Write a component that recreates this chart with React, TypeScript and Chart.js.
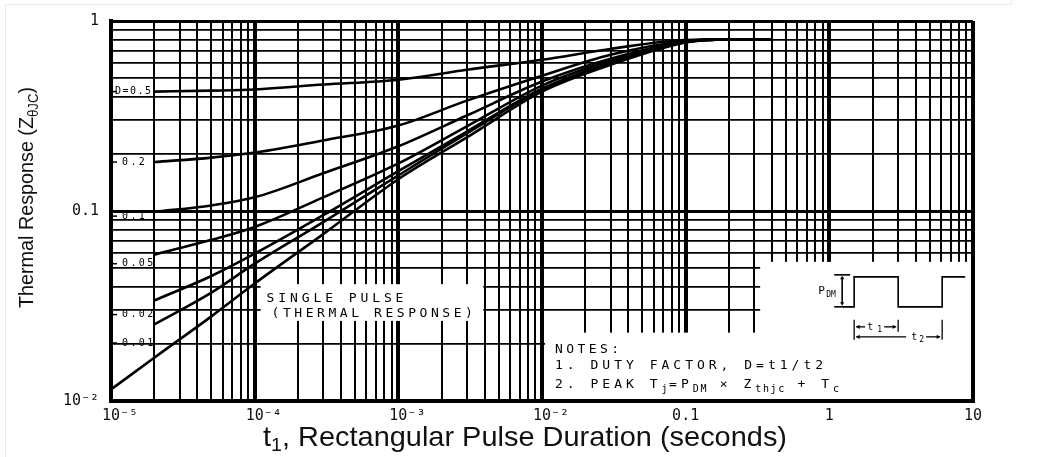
import { useEffect, useRef } from 'react';
import { Chart, registerables } from 'chart.js';

Chart.register(...registerables);

// ---- data (t1 in seconds, Z in normalised units) ----
const durations = [1e-5, 2e-5, 5e-5, 1e-4, 3e-4, 1e-3, 3e-3, 1e-2, 3e-2, 0.1, 0.2, 0.4];

const duty05 = [null, 0.425, 0.43, 0.436, 0.463, 0.491, 0.554, 0.625, 0.713, 0.795, 0.8, 0.8];
const duty02 = [null, 0.181, 0.191, 0.203, 0.235, 0.282, 0.381, 0.515, 0.664, 0.785, 0.8, 0.8];
const duty01 = [null, 0.099, 0.107, 0.118, 0.158, 0.219, 0.318, 0.48, 0.633, 0.78, 0.8, 0.8];
const duty005 = [null, 0.0589, 0.0705, 0.0824, 0.118, 0.178, 0.279, 0.457, 0.617, 0.778, 0.8, 0.8];
const duty002 = [null, 0.0338, 0.0455, 0.0596, 0.095, 0.162, 0.262, 0.44, 0.603, 0.776, 0.8, 0.8];
const duty001 = [null, 0.0253, 0.0372, 0.0528, 0.0874, 0.154, 0.256, 0.435, 0.595, 0.775, 0.8, 0.8];
const singlePulse = [0.0115, 0.0169, 0.0279, 0.0415, 0.0756, 0.147, 0.244, 0.425, 0.588, 0.772, 0.8, 0.8];

const seriesNames = ['D=0.5', 'D=0.2', 'D=0.1', 'D=0.05', 'D=0.02', 'D=0.01', 'Single pulse'];
const seriesValues = [duty05, duty02, duty01, duty005, duty002, duty001, singlePulse];

// curve labels written at the left edge, and the Z value they sit at
const dutyNames = ['D=0.5', '0.2', '0.1', '0.05', '0.02', '0.01'];
const dutyLabelAt = [0.425, 0.181, 0.094, 0.0528, 0.0285, 0.0202];

// axis ticks
const xDecades = [1e-5, 1e-4, 1e-3, 1e-2, 0.1, 1, 10];
const xDecadeLabels = ['10⁻⁵', '10⁻⁴', '10⁻³', '10⁻²', '0.1', '1', '10'];
const yDecades = [0.01, 0.1, 1];
const yDecadeLabels = ['10⁻²', '0.1', '1'];

// texts
const xTitle = [
  { text: 't', sub: false },
  { text: '1', sub: true },
  { text: ', Rectangular Pulse Duration (seconds)', sub: false },
];
const yTitle = [
  { text: 'Thermal Response (Z', sub: false },
  { text: 'θJC', sub: true },
  { text: ')', sub: false },
];
const pulseLabel = ['SINGLE PULSE', '(THERMAL RESPONSE)'];
const notesTitle = 'NOTES:';
const note1 = '1. DUTY FACTOR, D=t1/t2';
const note2 = [
  { text: '2. PEAK T', sub: false },
  { text: 'j', sub: true },
  { text: '=P', sub: false },
  { text: 'DM', sub: true },
  { text: ' × Z', sub: false },
  { text: 'thjc', sub: true },
  { text: ' + T', sub: false },
  { text: 'c', sub: true },
];

// white label boxes, in data coordinates (t1 from..to, Z top..bottom)
const singlePulseBox = { t0: 1.1e-4, t1: 3.9e-3, z0: 0.0412, z1: 0.0264 };
const notesBox = { t0: 1.05e-2, t1: 10, z0: 0.0229, z1: 0.01 };
const insetBox = { t0: 0.33, t1: 10, z0: 0.054, z1: 0.01 };

// ---- helpers ----
function logGrid(decades: number[]) {
  const out: number[] = [];
  for (let i = 0; i < decades.length - 1; i++) {
    for (let m = 1; m <= 9; m++) out.push(+(m * decades[i]).toPrecision(8));
  }
  out.push(decades[decades.length - 1]);
  return out;
}
const xGrid = logGrid(xDecades);
const yGrid = logGrid(yDecades);

function isDecade(v: number | undefined) {
  if (!v) return false;
  const l = Math.log10(v);
  return Math.abs(l - Math.round(l)) < 1e-6;
}
function labelFor(v: number, decades: number[], labels: string[]) {
  const i = decades.findIndex((d) => Math.abs(d - v) <= d * 1e-6);
  return i >= 0 ? labels[i] : '';
}

const MONO = '"DejaVu Sans Mono", monospace';
const SANS = '"Liberation Sans", Arial, sans-serif';

function drawSpaced(ctx: CanvasRenderingContext2D, text: string, x: number, y: number, spacing: number) {
  for (const ch of text) {
    ctx.fillText(ch, x, y);
    x += ctx.measureText(ch).width + spacing;
  }
  return x;
}

function drawSpacedSegs(
  ctx: CanvasRenderingContext2D,
  segs: { text: string; sub: boolean }[],
  x: number,
  y: number,
  mainFont: string,
  subFont: string,
  spacing: number,
  subSpacing: number,
  subShift: number
) {
  for (const s of segs) {
    ctx.font = s.sub ? subFont : mainFont;
    x = drawSpaced(ctx, s.text, x, s.sub ? y + subShift : y, s.sub ? subSpacing : spacing);
  }
  return x;
}

function drawRich(
  ctx: CanvasRenderingContext2D,
  segs: { text: string; sub: boolean }[],
  cx: number,
  baseline: number,
  targetWidth: number,
  mainFont: string,
  subFont: string,
  subShift: number
) {
  const widths = segs.map((s) => {
    ctx.font = s.sub ? subFont : mainFont;
    return ctx.measureText(s.text).width;
  });
  const total = widths.reduce((a, b) => a + b, 0);
  const k = targetWidth / total;
  ctx.save();
  ctx.translate(cx - targetWidth / 2, baseline);
  ctx.scale(k, 1);
  ctx.textAlign = 'left';
  ctx.textBaseline = 'alphabetic';
  let x = 0;
  segs.forEach((s, i) => {
    ctx.font = s.sub ? subFont : mainFont;
    ctx.fillText(s.text, x, s.sub ? subShift : 0);
    x += widths[i];
  });
  ctx.restore();
}

function boxPx(chart: any, b: { t0: number; t1: number; z0: number; z1: number }) {
  const { x, y } = chart.scales;
  const a = chart.chartArea;
  const left = x.getPixelForValue(b.t0);
  const right = Math.min(x.getPixelForValue(b.t1), a.right - 2);
  const top = y.getPixelForValue(b.z0);
  const bottom = Math.min(y.getPixelForValue(b.z1), a.bottom - 2);
  return { left, right, top, bottom };
}

function arrowHead(ctx: CanvasRenderingContext2D, x: number, y: number, dx: number, dy: number) {
  const s = 3.5;
  ctx.beginPath();
  ctx.moveTo(x, y);
  ctx.lineTo(x - dx * s - dy * s * 0.6, y - dy * s - dx * s * 0.6);
  ctx.lineTo(x - dx * s + dy * s * 0.6, y - dy * s + dx * s * 0.6);
  ctx.closePath();
  ctx.fill();
}

function line(ctx: CanvasRenderingContext2D, pts: number[][]) {
  ctx.beginPath();
  ctx.moveTo(pts[0][0], pts[0][1]);
  for (let i = 1; i < pts.length; i++) ctx.lineTo(pts[i][0], pts[i][1]);
  ctx.stroke();
}

const sheetPlugin = {
  id: 'sheetPlugin',
  beforeDatasetsDraw(chart: any) {
    const ctx: CanvasRenderingContext2D = chart.ctx;
    ctx.save();
    ctx.fillStyle = '#fff';
    for (const b of [singlePulseBox, notesBox, insetBox]) {
      const r = boxPx(chart, b);
      ctx.fillRect(r.left, r.top, r.right - r.left, r.bottom - r.top);
    }
    ctx.restore();
  },
  afterDatasetsDraw(chart: any) {
    const ctx: CanvasRenderingContext2D = chart.ctx;
    const { y } = chart.scales;
    const a = chart.chartArea;
    ctx.save();
    ctx.fillStyle = '#000';
    ctx.strokeStyle = '#000';
    ctx.textAlign = 'left';

    // curve labels at the left edge
    ctx.font = `10px ${MONO}`;
    ctx.textBaseline = 'middle';
    dutyNames.forEach((name, i) => {
      const py = y.getPixelForValue(dutyLabelAt[i]);
      ctx.fillRect(a.left + 1, py - 0.75, 5, 1.5);
      if (i === 0) drawSpaced(ctx, name, a.left + 4, py, 1.5);
      else drawSpaced(ctx, name, a.left + 11, py, 2.4);
    });

    // single pulse label
    ctx.textBaseline = 'alphabetic';
    const sp = boxPx(chart, singlePulseBox);
    ctx.font = `13px ${MONO}`;
    drawSpaced(ctx, pulseLabel[0], sp.left + 6, sp.top + 18, 3.9);
    drawSpaced(ctx, pulseLabel[1], sp.left + 11, sp.top + 33, 3.55);

    // notes
    const nb = boxPx(chart, notesBox);
    ctx.font = `13px ${MONO}`;
    drawSpaced(ctx, notesTitle, nb.left + 10, nb.top + 20, 3.4);
    drawSpaced(ctx, note1, nb.left + 10, nb.top + 36, 4.0);
    drawSpacedSegs(ctx, note2, nb.left + 10, nb.top + 55, `13px ${MONO}`, `10px ${MONO}`, 4.0, 1.6, 4);

    // inset pulse diagram
    const ib = boxPx(chart, insetBox);
    const L = ib.left;
    const T = ib.top;
    ctx.lineWidth = 1.6;
    // P_DM dimension
    line(ctx, [[L + 74, T + 13], [L + 90, T + 13]]);
    line(ctx, [[L + 74, T + 45], [L + 84, T + 45]]);
    line(ctx, [[L + 82, T + 16], [L + 82, T + 42]]);
    arrowHead(ctx, L + 82, T + 14, 0, -1);
    arrowHead(ctx, L + 82, T + 44, 0, 1);
    ctx.font = `11px ${MONO}`;
    ctx.fillText('P', L + 58, T + 32);
    ctx.font = `8px ${MONO}`;
    ctx.fillText('DM', L + 66, T + 35);
    // waveform
    line(ctx, [
      [L + 83, T + 45], [L + 94, T + 45], [L + 94, T + 15], [L + 138, T + 15],
      [L + 138, T + 45], [L + 182, T + 45], [L + 182, T + 15], [L + 205, T + 15],
    ]);
    // timing marks
    ctx.lineWidth = 1.3;
    line(ctx, [[L + 94, T + 58], [L + 94, T + 78]]);
    line(ctx, [[L + 138, T + 58], [L + 138, T + 70]]);
    line(ctx, [[L + 182, T + 58], [L + 182, T + 78]]);
    line(ctx, [[L + 96, T + 65], [L + 105, T + 65]]);
    arrowHead(ctx, L + 96, T + 65, -1, 0);
    line(ctx, [[L + 124, T + 65], [L + 136, T + 65]]);
    arrowHead(ctx, L + 136, T + 65, 1, 0);
    ctx.font = `10px ${MONO}`;
    ctx.fillText('t', L + 107, T + 68);
    ctx.font = `8px ${MONO}`;
    ctx.fillText('1', L + 117, T + 70);
    line(ctx, [[L + 96, T + 75], [L + 146, T + 75]]);
    arrowHead(ctx, L + 96, T + 75, -1, 0);
    ctx.font = `10px ${MONO}`;
    ctx.fillText('t', L + 151, T + 78);
    ctx.font = `8px ${MONO}`;
    ctx.fillText('2', L + 159, T + 80);
    line(ctx, [[L + 166, T + 75], [L + 180, T + 75]]);
    arrowHead(ctx, L + 180, T + 75, 1, 0);
    ctx.restore();
  },
  afterDraw(chart: any) {
    const ctx: CanvasRenderingContext2D = chart.ctx;
    ctx.save();
    ctx.fillStyle = '#111';
    // x title
    drawRich(ctx, xTitle, 525, 446, 524, `28px ${SANS}`, `19px ${SANS}`, 5);
    // y title (rotated)
    ctx.translate(33, 197.5);
    ctx.rotate(-Math.PI / 2);
    drawRich(ctx, yTitle, 0, 0, 221, `21px ${SANS}`, `14px ${SANS}`, 5);
    ctx.restore();
    // faint page frame
    ctx.save();
    ctx.strokeStyle = '#e9e9e9';
    ctx.lineWidth = 1;
    line(ctx, [[5.5, 457], [5.5, 4.5], [1011.5, 4.5], [1011.5, 0]]);
    ctx.restore();
  },
};

export default function App() {
  const ref = useRef<HTMLCanvasElement | null>(null);

  useEffect(() => {
    if (!ref.current) return;
    const datasets = seriesValues.map((vals, si) => ({
      label: seriesNames[si],
      data: durations
        .map((t, i) => ({ x: t, y: vals[i] }))
        .filter((p) => p.y !== null && p.y !== undefined),
      borderColor: '#000',
      backgroundColor: '#000',
      borderWidth: 2.6,
      pointRadius: 0,
      fill: false,
      cubicInterpolationMode: 'monotone' as const,
    }));

    const tickFont = { family: MONO, size: 15 };

    const chart = new Chart(ref.current, {
      type: 'line',
      data: { datasets: datasets as any },
      options: {
        animation: false,
        responsive: false,
        devicePixelRatio: 1,
        layout: { padding: { top: 17, right: 74, bottom: 0, left: 0 } },
        plugins: { legend: { display: false }, tooltip: { enabled: false } },
        scales: {
          x: {
            type: 'logarithmic',
            min: 1e-5,
            max: 10,
            afterBuildTicks: (s: any) => {
              s.ticks = xGrid.map((v) => ({ value: v }));
            },
            afterFit: (s: any) => {
              s.height = 56;
            },
            grid: {
              color: '#000',
              lineWidth: (c: any) => (isDecade(c.tick?.value) ? 4 : 2),
              drawTicks: false,
            },
            border: { display: true, color: '#000', width: 4 },
            ticks: {
              autoSkip: false,
              maxRotation: 0,
              minRotation: 0,
              padding: 6,
              color: '#111',
              font: tickFont,
              callback: (v: any) => {
                const l = labelFor(Number(v), xDecades, xDecadeLabels);
                return l.startsWith('10⁻') ? '  ' + l : l;
              },
            },
          },
          y: {
            type: 'logarithmic',
            min: 0.01,
            max: 1,
            afterBuildTicks: (s: any) => {
              s.ticks = yGrid.map((v) => ({ value: v }));
            },
            afterFit: (s: any) => {
              s.width = 111;
            },
            grid: {
              color: '#000',
              lineWidth: (c: any) => (isDecade(c.tick?.value) ? 3 : 1.7),
              drawTicks: false,
            },
            border: { display: true, color: '#000', width: 4 },
            ticks: {
              autoSkip: false,
              padding: 12,
              color: '#111',
              font: tickFont,
              callback: (v: any) => labelFor(Number(v), yDecades, yDecadeLabels),
            },
          },
        },
      } as any,
      plugins: [sheetPlugin],
    });
    return () => chart.destroy();
  }, []);

  return (
    <div style={{ position: 'fixed', left: 0, top: 0, width: 1047, height: 457, background: '#fff' }}>
      <canvas ref={ref} width={1047} height={457} style={{ display: 'block', width: 1047, height: 457 }} />
    </div>
  );
}
